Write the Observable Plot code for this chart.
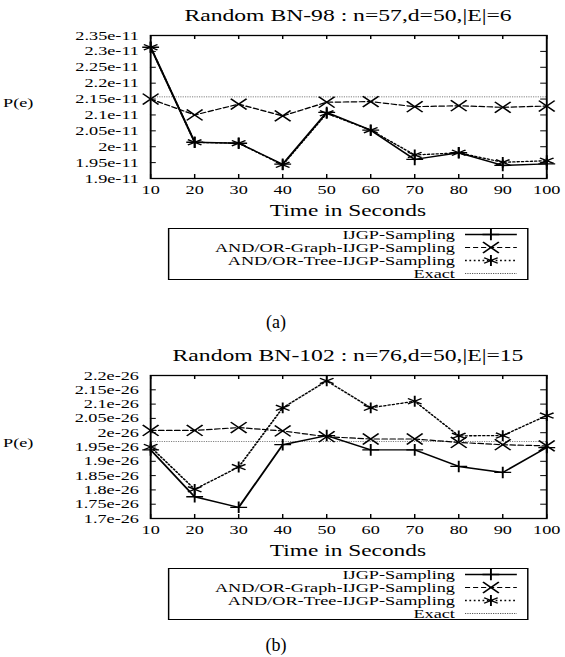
<!DOCTYPE html>
<html>
<head>
<meta charset="utf-8">
<script src="https://cdn.jsdelivr.net/npm/d3@7"></script>
<script src="https://cdn.jsdelivr.net/npm/@observablehq/plot@0.6"></script>
<style>
html,body{margin:0;padding:0;background:#fff;}
body{width:565px;height:657px;position:relative;overflow:hidden;font-family:"Liberation Serif","Times New Roman",serif;color:#000;}
#fig{position:absolute;left:0;top:0;width:387px;height:657px;transform:scaleX(1.46);transform-origin:0 0;}
.abs{position:absolute;white-space:nowrap;}
.title{font-size:16.2px;line-height:18px;text-align:center;}
.xlab{font-size:16px;line-height:18px;text-align:center;}
.ylab{font-size:12.5px;line-height:14px;text-align:center;}
.legend{border:1px solid #000;box-sizing:border-box;background:#fff;}
.cap{font-size:18px;line-height:20px;text-align:center;width:60px;}
svg{overflow:visible;}
</style>
</head>
<body>
<div id="fig"></div>
<script>
// ---- data ----
const times = [10, 20, 30, 40, 50, 60, 70, 80, 90, 100];
const xTickLabels = ["10","20","30","40","50","60","70","80","90","100"];
const seriesNames = ["IJGP-Sampling", "AND/OR-Graph-IJGP-Sampling", "AND/OR-Tree-IJGP-Sampling", "Exact"];

// (a) Random BN-98
const titleA = "Random BN-98 : n=57,d=50,|E|=6";
const ijgpA  = [2.313e-11, 2.014e-11, 2.011e-11, 1.945e-11, 2.108e-11, 2.052e-11, 1.960e-11, 1.981e-11, 1.941e-11, 1.946e-11];
const graphA = [2.150e-11, 2.100e-11, 2.134e-11, 2.097e-11, 2.140e-11, 2.142e-11, 2.126e-11, 2.129e-11, 2.124e-11, 2.128e-11];
const treeA  = [2.313e-11, 2.014e-11, 2.011e-11, 1.943e-11, 2.105e-11, 2.052e-11, 1.974e-11, 1.981e-11, 1.951e-11, 1.956e-11];
const exactA = 2.157e-11;
const yTicksA = [1.9e-11, 1.95e-11, 2e-11, 2.05e-11, 2.1e-11, 2.15e-11, 2.2e-11, 2.25e-11, 2.3e-11, 2.35e-11];
const yTickLabelsA = ["1.9e-11","1.95e-11","2e-11","2.05e-11","2.1e-11","2.15e-11","2.2e-11","2.25e-11","2.3e-11","2.35e-11"];

// (b) Random BN-102
const titleB = "Random BN-102 : n=76,d=50,|E|=15";
const ijgpB  = [1.940e-26, 1.776e-26, 1.739e-26, 1.958e-26, 1.990e-26, 1.940e-26, 1.940e-26, 1.882e-26, 1.861e-26, 1.948e-26];
const graphB = [2.008e-26, 2.008e-26, 2.018e-26, 2.006e-26, 1.986e-26, 1.978e-26, 1.978e-26, 1.966e-26, 1.958e-26, 1.954e-26];
const treeB  = [1.950e-26, 1.802e-26, 1.880e-26, 2.087e-26, 2.181e-26, 2.087e-26, 2.110e-26, 1.989e-26, 1.990e-26, 2.060e-26];
const exactB = 1.970e-26;
const yTicksB = [1.7e-26, 1.75e-26, 1.8e-26, 1.85e-26, 1.9e-26, 1.95e-26, 2e-26, 2.05e-26, 2.1e-26, 2.15e-26, 2.2e-26];
const yTickLabelsB = ["1.7e-26","1.75e-26","1.8e-26","1.85e-26","1.9e-26","1.95e-26","2e-26","2.05e-26","2.1e-26","2.15e-26","2.2e-26"];

const captions = ["(a)", "(b)"];

// ---- styles ----
const styles = [
  {dash: null,      sym: "plus",     r: 3.8, w: 1.4, stroke: "#000"},
  {dash: "3.5,2",   sym: "times",    r: 5.0, w: 1.2, stroke: "#000"},
  {dash: "1.2,1.8", sym: "asterisk", r: 5.1, w: 1.3, stroke: "#000"},
  {dash: "0.8,0.8", sym: null,       r: 0,   w: 0.8, stroke: "#555"}
];

const W = 387, FL = 102.7, FR = 374, FT = 35, FB = 178, H = 225;
const FW = FR - FL, FH = FB - FT;
const fig = document.getElementById("fig");

function addDiv(cls, text, css) {
  const d = document.createElement("div");
  d.className = "abs " + cls;
  d.textContent = text;
  Object.assign(d.style, css);
  fig.appendChild(d);
  return d;
}

function panel(top, title, series, exact, yTicks, yLabels) {
  addDiv("title", title, {left: FL + "px", width: FW + "px", top: (top + 7) + "px"});
  addDiv("ylab", "P(e)", {left: "0px", width: "25px", top: (top + 96) + "px"});
  const yMap = new Map(yTicks.map((v, i) => [v, yLabels[i]]));
  const xMap = new Map(times.map((v, i) => [v, xTickLabels[i]]));
  const marks = [
    Plot.ruleY([exact], {stroke: styles[3].stroke, strokeWidth: styles[3].w, strokeDasharray: styles[3].dash})
  ];
  series.forEach((vals, k) => {
    const rows = times.map((t, i) => ({t, v: vals[i]}));
    const s = styles[k];
    marks.push(Plot.line(rows, {x: "t", y: "v", stroke: s.stroke, strokeWidth: s.w, strokeDasharray: s.dash}));
    marks.push(Plot.dot(rows, {x: "t", y: "v", symbol: s.sym, r: s.r, stroke: "#000", fill: "none", strokeWidth: 1.3}));
  });
  marks.push(
    Plot.tickY(yTicks, {y: d => d, insetRight: FW - 4, strokeWidth: 1}),
    Plot.tickY(yTicks, {y: d => d, insetLeft: FW - 4, strokeWidth: 1}),
    Plot.tickX(times, {x: d => d, insetTop: FH - 4, strokeWidth: 1}),
    Plot.tickX(times, {x: d => d, insetBottom: FH - 4, strokeWidth: 1}),
    Plot.frame({stroke: "#000", strokeWidth: 1.3}),
    Plot.axisX(times, {tickSize: 0, tickPadding: 7, tickFormat: d => xMap.get(d), label: null, fill: "#000"}),
    Plot.axisY(yTicks, {tickSize: 0, tickPadding: 8, tickFormat: d => yMap.get(d), label: null, fill: "#000"})
  );
  const chart = Plot.plot({
    width: W, height: H,
    marginLeft: FL, marginRight: W - FR, marginTop: FT, marginBottom: H - FB,
    x: {domain: [10, 100]},
    y: {domain: [yTicks[0], yTicks[yTicks.length - 1]]},
    style: {fontFamily: '"Liberation Serif","Times New Roman",serif', fontSize: "12.5px", color: "#000", background: "transparent"},
    marks
  });
  chart.style.position = "absolute";
  chart.style.left = "0px";
  chart.style.top = top + "px";
  fig.appendChild(chart);
  addDiv("xlab", "Time in Seconds", {left: FL + "px", width: FW + "px", top: (top + 202) + "px"});

  // legend box
  const lg = document.createElement("div");
  lg.className = "abs legend";
  Object.assign(lg.style, {left: "115px", top: (top + 228) + "px", width: "246.6px", height: "52px"});
  fig.appendChild(lg);
  const svg = d3.select(lg).append("svg").attr("width", 244.6).attr("height", 50)
    .style("position", "absolute").style("left", "0px").style("top", "0px");
  seriesNames.forEach((name, k) => {
    const cy = 5.5 + 13 * k, s = styles[k];
    svg.append("text").attr("x", 195.6).attr("y", cy).attr("dy", "0.35em")
      .attr("text-anchor", "end").attr("font-size", 12.5)
      .attr("font-family", '"Liberation Serif","Times New Roman",serif').attr("fill", "#000").text(name);
    svg.append("line").attr("x1", 202.5).attr("x2", 238).attr("y1", cy).attr("y2", cy)
      .attr("stroke", s.stroke).attr("stroke-width", s.w).attr("stroke-dasharray", s.dash);
    if (s.sym) {
      const sym = {plus: d3.symbolPlus, times: d3.symbolTimes, asterisk: d3.symbolAsterisk}[s.sym];
      svg.append("path").attr("transform", `translate(220.25,${cy})`)
        .attr("d", d3.symbol(sym, Math.PI * s.r * s.r)())
        .attr("fill", "none").attr("stroke", "#000").attr("stroke-width", 1.3);
    }
  });
}

panel(0, titleA, [ijgpA, graphA, treeA], exactA, yTicksA, yTickLabelsA);
panel(340, titleB, [ijgpB, graphB, treeB], exactB, yTicksB, yTickLabelsB);

// captions (not stretched)
[[322, captions[0]], [645, captions[1]]].forEach(([cy, txt]) => {
  const d = document.createElement("div");
  d.className = "abs cap";
  d.textContent = txt;
  Object.assign(d.style, {left: (276 - 30) + "px", top: (cy - 10) + "px"});
  document.body.appendChild(d);
});
</script>
</body>
</html>
